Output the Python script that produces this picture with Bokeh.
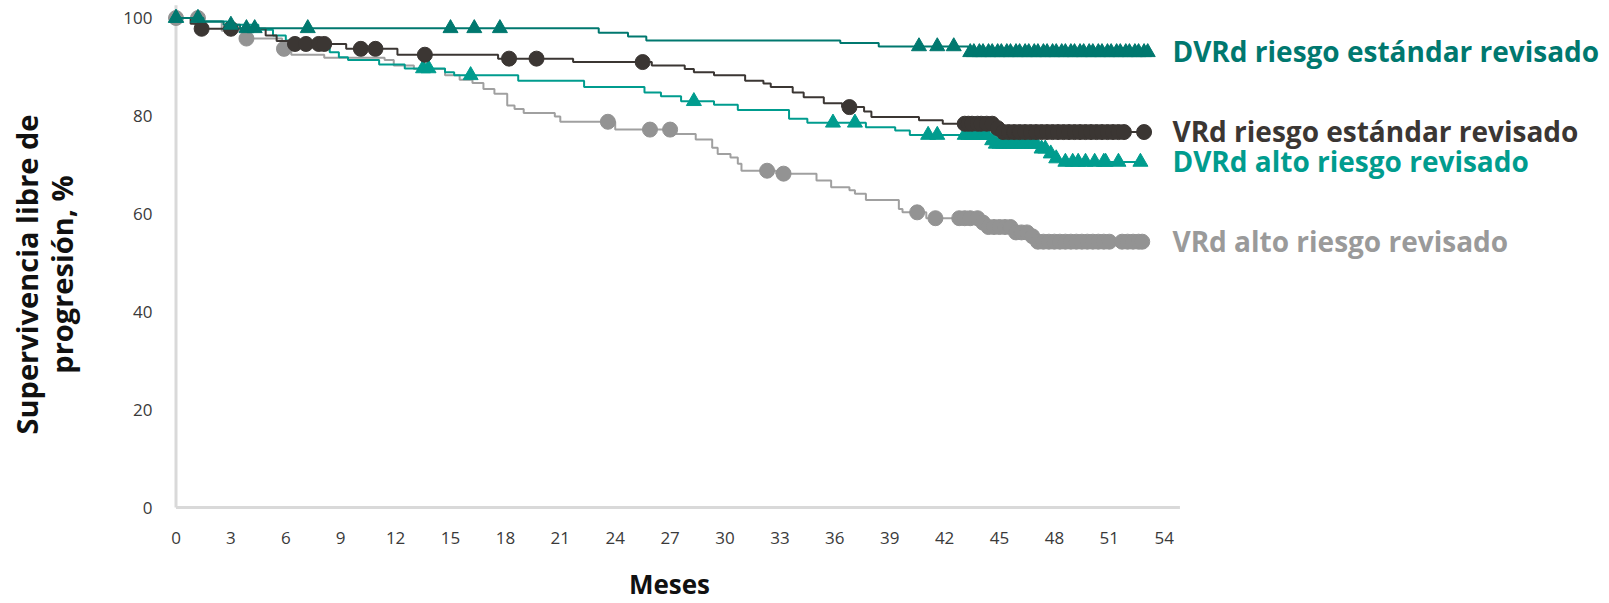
import numpy as np
from bokeh.plotting import figure
from bokeh.models import Label
from bokeh.core.properties import value
from bokeh.embed import file_html
from bokeh.resources import INLINE

# ---------------- data ----------------
x_ticks = list(range(0, 55, 3))
y_ticks = [0, 20, 40, 60, 80, 100]

# DVRd riesgo estándar revisado
dvrd_std_t = [0, 1.5, 2.6, 3.5, 23.1, 24.7, 25.7, 36.3, 38.4, 43.3]
dvrd_std_s = [100, 99.3, 98.6, 97.9, 97.0, 96.2, 95.4, 94.9, 94.2, 93.0]
dvrd_std_end = 53.1
dvrd_std_cens = [0.0, 1.2, 3.0, 3.85, 4.3, 7.2, 15.0, 16.3, 17.7, 40.6, 41.6, 42.5,
                 43.4, 43.6, 43.9, 44.1, 44.4, 44.6, 44.9, 45.1, 45.4, 45.6, 45.9,
                 46.1, 46.4, 46.6, 46.9, 47.1, 47.4, 47.6, 47.9, 48.1, 48.4, 48.6,
                 48.9, 49.1, 49.4, 49.6, 49.9, 50.1, 50.4, 50.6, 50.9, 51.1, 51.4,
                 51.6, 51.9, 52.1, 52.4, 52.6, 52.9, 53.1]

# VRd riesgo estándar revisado
vrd_std_t = [0, 0.8, 1.3, 4.9, 5.5, 6.2, 9.3, 12.1, 17.6, 21.7, 26.0, 27.8, 28.3,
             29.4, 31.1, 32.1, 32.5, 33.7, 34.3, 35.4, 36.4, 37.6, 38.0, 40.6,
             41.9, 44.7, 45.2]
vrd_std_s = [100, 98.8, 97.8, 96.4, 95.3, 94.7, 93.7, 92.5, 91.7, 91.0, 90.3, 89.6,
             88.9, 88.3, 87.2, 86.6, 85.9, 84.8, 83.8, 82.6, 81.8, 80.9, 79.8, 79.1,
             78.4, 77.5, 76.7]
vrd_std_end = 52.9
vrd_std_cens = [1.4, 3.0, 6.5, 7.1, 7.8, 8.1, 10.1, 10.9, 13.6, 18.2, 19.7, 25.5,
                36.8, 43.1, 43.3, 43.5, 43.8, 44.0, 44.3, 44.6, 44.9, 45.2, 45.5,
                45.8, 46.1, 46.4, 46.7, 47.0, 47.3, 47.6, 47.9, 48.2, 48.5, 48.8,
                49.1, 49.4, 49.7, 50.0, 50.3, 50.6, 50.9, 51.2, 51.5, 51.8, 52.9]

# DVRd alto riesgo revisado
dvrd_high_t = [0, 1.3, 2.8, 4.5, 5.3, 6.0, 7.0, 8.4, 8.9, 9.4, 11.1, 12.5, 14.7,
               15.2, 18.7, 22.3, 25.6, 26.5, 27.6, 29.4, 30.7, 33.5, 34.5, 37.7,
               39.3, 40.1, 44.5, 44.7, 47.2, 47.6, 48.0, 48.3]
dvrd_high_s = [100, 99.3, 98.6, 97.6, 96.4, 95.4, 94.2, 93.0, 92.0, 91.4, 90.5,
               89.7, 88.9, 88.3, 87.2, 85.9, 84.8, 84.0, 83.0, 82.3, 81.2, 79.4,
               78.6, 77.7, 77.0, 76.1, 75.0, 74.3, 73.3, 72.3, 71.3, 70.6]
dvrd_high_end = 52.8
dvrd_high_cens = [0.0, 13.5, 13.8, 16.1, 28.3, 35.9, 37.1, 41.1, 41.6, 43.1, 43.3,
                  43.5, 43.7, 43.9, 44.1, 44.3, 44.6, 44.8, 45.0, 45.2, 45.4, 45.6,
                  45.8, 46.0, 46.2, 46.4, 46.6, 46.8, 47.0, 47.3, 47.5, 47.8, 48.1,
                  48.6, 49.0, 49.3, 49.7, 50.2, 50.7, 50.8, 51.5, 52.7]

# VRd alto riesgo revisado
vrd_high_t = [0, 1.3, 2.5, 3.8, 5.8, 6.3, 8.1, 11.4, 11.9, 13.0, 14.7, 15.5, 16.2,
              16.8, 17.4, 18.1, 18.5, 19.0, 20.7, 21.0, 24.0, 27.3, 28.4, 29.3,
              29.6, 30.3, 30.7, 30.9, 32.8, 35.0, 35.8, 36.8, 37.1, 37.7, 39.5,
              39.7, 41.0, 44.0, 44.3, 45.8, 46.6, 46.9]
vrd_high_s = [100, 99.3, 97.4, 95.8, 93.7, 92.5, 91.9, 91.4, 90.3, 89.6, 88.3, 87.4,
              86.7, 85.5, 84.5, 82.1, 81.4, 80.6, 79.9, 78.8, 77.2, 76.3, 75.2, 73.5,
              72.2, 71.5, 70.2, 68.8, 68.2, 66.8, 65.4, 64.8, 64.1, 62.8, 61.0, 60.3,
              59.1, 58.2, 57.3, 56.2, 55.4, 54.3]
vrd_high_end = 52.8
vrd_high_cens = [0.0, 1.2, 3.85, 5.9, 23.6, 25.9, 27.0, 32.3, 33.2, 40.5, 41.5, 42.8,
                 43.1, 43.4, 43.8, 44.1, 44.4, 44.7, 45.0, 45.3, 45.6, 45.9, 46.2,
                 46.5, 46.8, 47.1, 47.4, 47.7, 48.0, 48.3, 48.6, 48.9, 49.2, 49.5,
                 49.8, 50.1, 50.4, 50.7, 51.0, 51.7, 52.0, 52.3, 52.6, 52.8]

names = ["DVRd riesgo estándar revisado", "VRd riesgo estándar revisado",
         "DVRd alto riesgo revisado", "VRd alto riesgo revisado"]
y_title = ["Supervivencia libre de", "progresión, %"]
x_title = "Meses"

# ---------------- layout (pixel geometry of the reference) ----------------
W, H = 1609, 603
ORIGIN_X, ORIGIN_Y = 175.5, 507.0   # pixel position of (0 months, 0 %)
PX_X = 18.3                          # px per month
PX_Y = 4.895                         # px per %
x_range = (-ORIGIN_X / PX_X, (W - ORIGIN_X) / PX_X)
y_range = (-(H - ORIGIN_Y) / PX_Y, ORIGIN_Y / PX_Y)

FONT = "Open Sans"
p = figure(width=W, height=H, x_range=x_range, y_range=y_range,
           output_backend="svg", toolbar_location=None,
           min_border=0, min_border_left=0, min_border_right=0,
           min_border_top=0, min_border_bottom=0)
p.outline_line_color = None
p.grid.visible = False
p.xaxis.visible = False
p.yaxis.visible = False
p.background_fill_color = "white"
p.border_fill_color = "white"

# axis lines (grey, like the reference)
p.segment(x0=[0, 0], y0=[0, 0], x1=[x_ticks[-1] + 0.86, 0], y1=[0, 102.6],
          line_color="#d9d9d9", line_width=3, level="underlay")

# tick labels, placed through the scales
TICK_COLOR = "#3a3a3a"
p.text(x=x_ticks, y=[-30 / PX_Y] * len(x_ticks), text=[str(v) for v in x_ticks],
       text_font=value(FONT), text_font_size=value("17px"), text_color=TICK_COLOR,
       text_align="center", text_baseline="middle")
p.text(x=[-23.5 / PX_X] * len(y_ticks), y=y_ticks,
       text=[str(v) for v in y_ticks],
       text_font=value(FONT), text_font_size=value("17px"), text_color=TICK_COLOR,
       text_align="right", text_baseline="middle")

# axis titles
TITLE_COLOR = "#111111"
p.add_layout(Label(x=(669 - ORIGIN_X) / PX_X, y=-76 / PX_Y, text=x_title,
                   text_font=FONT, text_font_style="bold", text_font_size="26px",
                   text_color=TITLE_COLOR, text_align="center", text_baseline="middle"))
for line, px in zip(y_title, [26, 61]):
    p.add_layout(Label(x=(px - ORIGIN_X) / PX_X, y=47.6, text=line, angle=np.pi / 2,
                       text_font=FONT, text_font_style="bold", text_font_size="29px",
                       text_color=TITLE_COLOR, text_align="center",
                       text_baseline="middle"))


def draw(t, s, end, cens, line_color, mark_color, marker, size):
    xs = list(t) + [end]
    ys = list(s) + [s[-1]]
    p.step(xs, ys, mode="after", line_color=line_color, line_width=2)
    t_arr = np.array(t)
    s_arr = np.array(s)
    idx = np.searchsorted(t_arr, np.array(cens), side="right") - 1
    p.scatter(cens, s_arr[idx], marker=marker, size=size, fill_color=mark_color,
              line_color=mark_color)


GRAY_L, GRAY_M = "#a0a0a0", "#939393"
DARK = "#3b3633"
TEAL = "#009c8e"
DTEAL = "#00786f"

draw(vrd_high_t, vrd_high_s, vrd_high_end, vrd_high_cens, GRAY_L, GRAY_M, "circle", 15)
draw(dvrd_high_t, dvrd_high_s, dvrd_high_end, dvrd_high_cens, TEAL, TEAL, "triangle", 15)
draw(vrd_std_t, vrd_std_s, vrd_std_end, vrd_std_cens, DARK, DARK, "circle", 15)
draw(dvrd_std_t, dvrd_std_s, dvrd_std_end, dvrd_std_cens, DTEAL, DTEAL, "triangle", 15)

# series labels at the right, at the final value of each curve
for name, s, col in zip(names,
                        [dvrd_std_s, vrd_std_s, dvrd_high_s, vrd_high_s],
                        [DTEAL, DARK, TEAL, "#9a9a9a"]):
    p.add_layout(Label(x=54.45, y=s[-1] + 0.2, text=name, text_font=FONT,
                       text_font_style="bold", text_font_size="28px",
                       text_color=col, text_baseline="middle", text_align="left"))

open("out.html", "w").write(file_html(p, INLINE))
